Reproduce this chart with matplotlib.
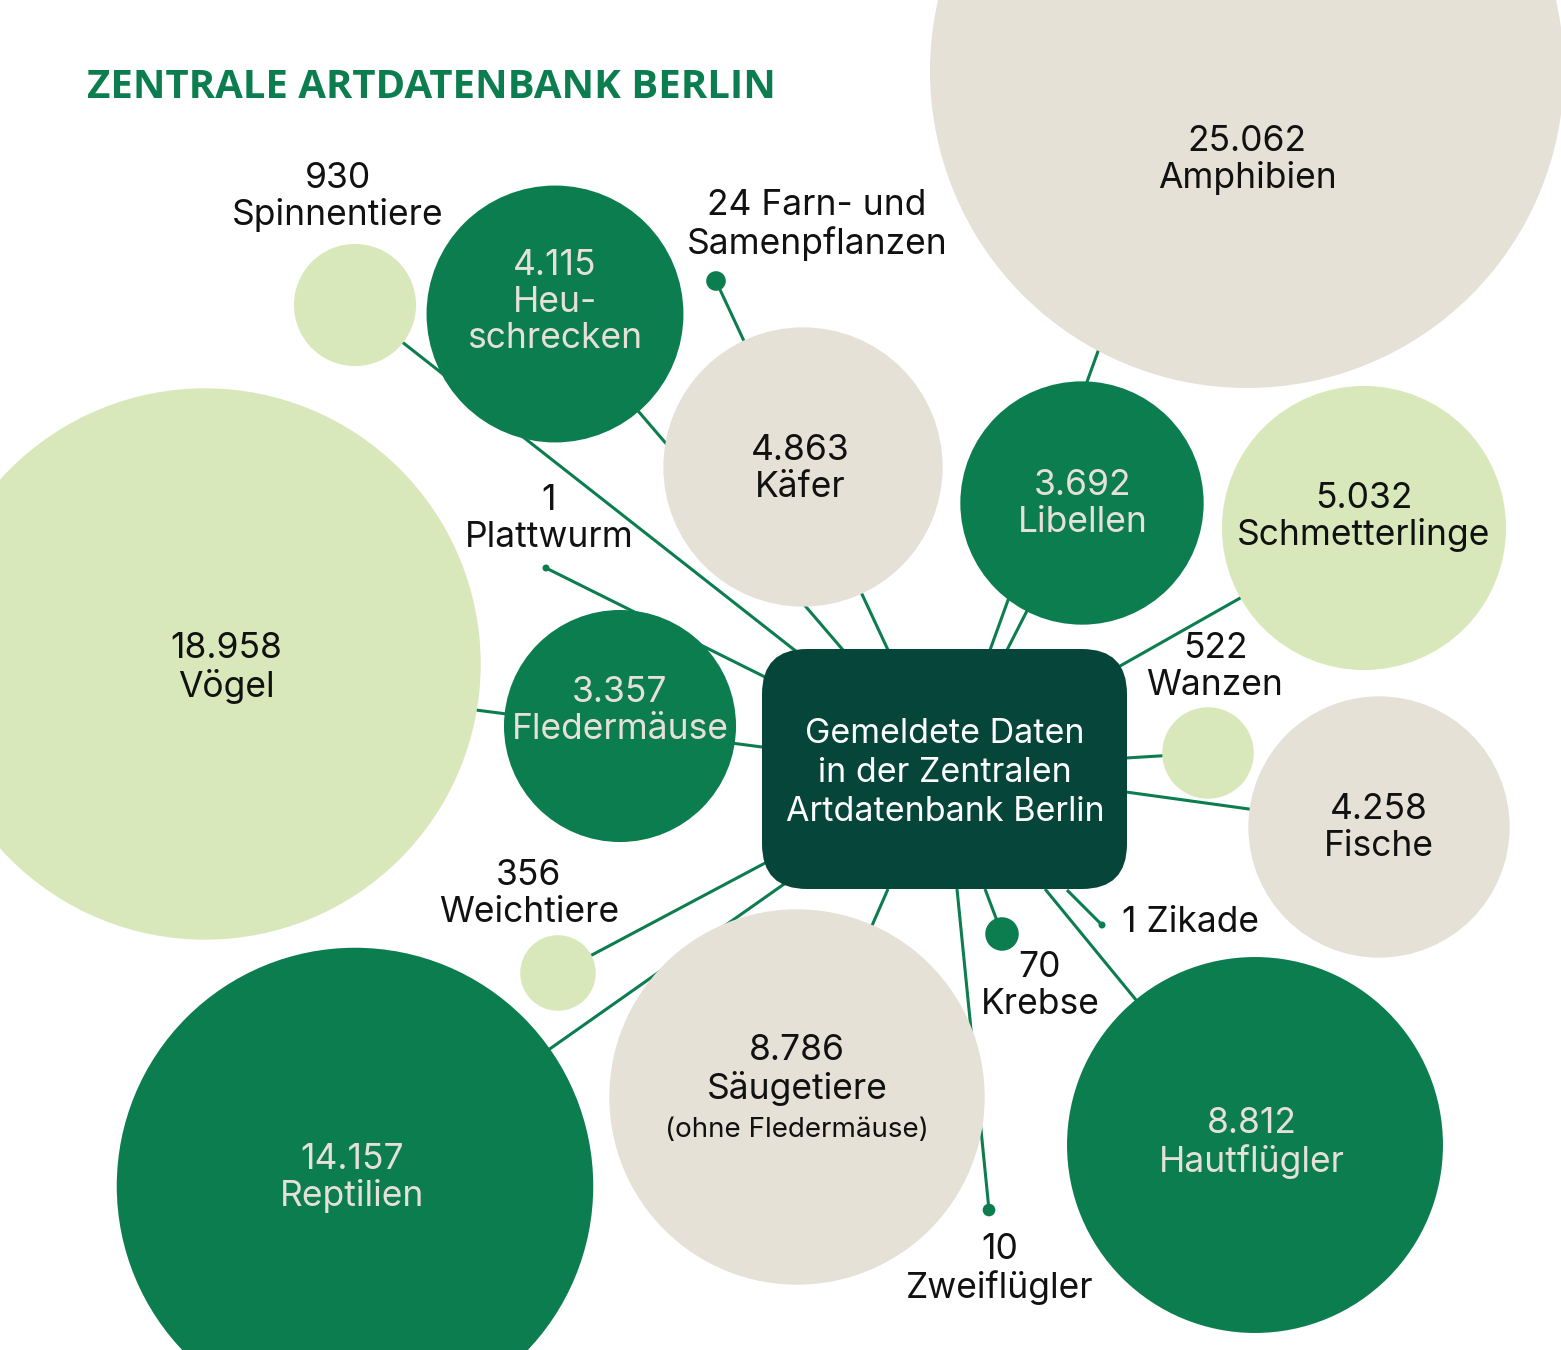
import matplotlib
matplotlib.use("Agg")
import matplotlib.pyplot as plt
from matplotlib.patches import Circle, FancyBboxPatch
import numpy as np

plt.rcParams['font.family'] = ['Inter', 'DejaVu Sans']

# data
names = ["Amphibien", "Vögel", "Reptilien", "Hautflügler", "Säugetiere",
         "Schmetterlinge", "Käfer", "Fische", "Heuschrecken", "Libellen",
         "Fledermäuse", "Spinnentiere", "Wanzen", "Weichtiere", "Krebse",
         "Farn- und Samenpflanzen", "Zweiflügler", "Plattwurm", "Zikade"]
values = [25062, 18958, 14157, 8812, 8786,
          5032, 4863, 4258, 4115, 3692,
          3357, 930, 522, 356, 70,
          24, 10, 1, 1]
# how the label is written (number is put in front)
label_names = ["Amphibien", "Vögel", "Reptilien", "Hautflügler", "Säugetiere",
               "Schmetterlinge", "Käfer", "Fische", "Heu-\nschrecken", "Libellen",
               "Fledermäuse", "Spinnentiere", "Wanzen", "Weichtiere", "Krebse",
               "Farn- und\nSamenpflanzen", "Zweiflügler", "Plattwurm", "Zikade"]
title = "ZENTRALE ARTDATENBANK BERLIN"
center_text = "Gemeldete Daten\nin der Zentralen\nArtdatenbank Berlin"

# colours
DARK = "#0b7d4f"
LIGHT = "#d9e8ba"
BEIGE = "#e5e1d7"
BOX = "#06463a"
INK = "#111111"

# layout in pixel coords: circle centre, connector line, label pos, colour
layout = {
    "Amphibien":      dict(c=(1247, 71),  ln=((1122, 285), (990, 650)), t=(1247, 160), col=BEIGE),
    "Vögel":          dict(c=(205, 664),  ln=((205, 675), (762, 747)), t=(226, 668), col=LIGHT),
    "Reptilien":      dict(c=(355, 1186), ln=((355, 1186), (787, 882)), t=(352, 1178), col=DARK),
    "Hautflügler":    dict(c=(1255, 1145), ln=((1255, 1145), (1045, 889)), t=(1252, 1143), col=DARK),
    "Säugetiere":     dict(c=(797, 1097), ln=((797, 1097), (888, 889)), t=(797, 1070), col=BEIGE),
    "Schmetterlinge": dict(c=(1364, 528), ln=((1364, 528), (1113, 670)), t=(1364, 517), col=LIGHT),
    "Käfer":          dict(c=(803, 467),  ln=None, t=(800, 469), col=BEIGE),
    "Fische":         dict(c=(1379, 827), ln=((1379, 827), (1126, 792)), t=(1379, 828), col=BEIGE),
    "Heuschrecken":   dict(c=(555, 314),  ln=((555, 314), (843, 650)), t=(555, 302), col=DARK),
    "Libellen":       dict(c=(1082, 503), ln=((1082, 503), (1007, 650)), t=(1083, 504), col=DARK),
    "Fledermäuse":    dict(c=(620, 726),  ln=None, t=(620, 711), col=DARK),
    "Spinnentiere":   dict(c=(355, 305),  ln=((355, 305), (797, 652)), t=(338, 197), col=LIGHT),
    "Wanzen":         dict(c=(1208, 753), ln=((1208, 753), (1126, 758)), t=(1215, 667), col=LIGHT),
    "Weichtiere":     dict(c=(558, 973),  ln=((558, 973), (767, 862)), t=(529, 894), col=LIGHT),
    "Krebse":         dict(c=(1002, 934), ln=((1002, 934), (985, 889)), t=(1040, 986), col=DARK),
    "Farn- und Samenpflanzen": dict(c=(716, 281), ln=((716, 281), (888, 650)), t=(817, 225), col=DARK),
    "Zweiflügler":    dict(c=(989, 1210), ln=((989, 1210), (957, 889)), t=(1000, 1269), col=DARK),
    "Plattwurm":      dict(c=(546, 568),  ln=((546, 568), (767, 678)), t=(549, 519), col=DARK),
    "Zikade":         dict(c=(1102, 925), ln=((1102, 925), (1067, 890)), t=(1122, 922), col=DARK),
}
outside = ["Spinnentiere", "Wanzen", "Weichtiere", "Krebse", "Farn- und Samenpflanzen",
           "Zweiflügler", "Plattwurm", "Zikade"]

W, H = 1561, 1350
fig = plt.figure(figsize=(W / 100, H / 100), dpi=100)
ax = fig.add_axes([0, 0, 1, 1])
ax.set_xlim(0, W)
ax.set_ylim(H, 0)
ax.set_aspect("equal")
ax.set_axis_off()

# area scaled bubbles, biggest one has radius 317 px
rmax = 317
vmax = max(values)

for name, val, lab in zip(names, values, label_names):
    L = layout[name]
    r = max(rmax * np.sqrt(val / vmax), 3.5)
    if L["ln"] is not None:
        (x0, y0), (x1, y1) = L["ln"]
        ax.plot([x0, x1], [y0, y1], color=DARK, lw=2.2, zorder=1,
                solid_capstyle="butt")
    ax.add_patch(Circle(L["c"], r, facecolor=L["col"], edgecolor="none", zorder=2))

    num = f"{val:,}".replace(",", ".")
    tx, ty = L["t"]
    tcol = BEIGE if (L["col"] == DARK and name not in outside) else INK
    if name == "Zikade" or name == "Farn- und Samenpflanzen":
        txt = num + " " + lab
    else:
        txt = num + "\n" + lab
    ha = "left" if name == "Zikade" else "center"
    ax.text(tx, ty, txt, ha=ha, va="center", fontsize=25.5, color=tcol,
            linespacing=1.13, zorder=4, multialignment="center")
    if name == "Säugetiere":
        ax.text(tx, 1130, "(ohne Fledermäuse)", ha="center", va="center",
                fontsize=20, color=INK, zorder=4)

# centre box
box = FancyBboxPatch((762, 649), 365, 240,
                     boxstyle="round,pad=0,rounding_size=45",
                     facecolor=BOX, edgecolor="none", zorder=3)
ax.add_patch(box)
ax.text(945, 773, center_text, ha="center", va="center", fontsize=24.5,
        color="white", linespacing=1.27, zorder=4)

ax.text(87, 87, title, ha="left", va="center", fontsize=28.9,
        fontweight="bold", color=DARK, family=["Open Sans", "DejaVu Sans"])

fig.savefig("out.png", dpi=100, facecolor="white")
